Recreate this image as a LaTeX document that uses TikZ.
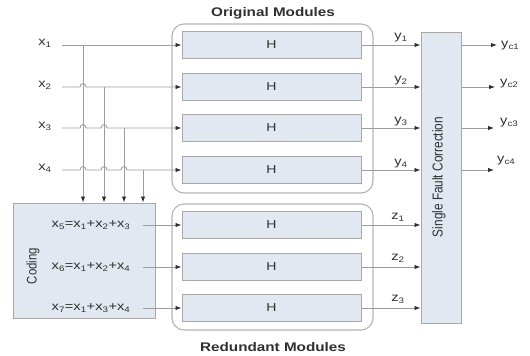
\documentclass[tikz,border=0pt]{standalone}
\usepackage{fontspec}
\setmainfont{Liberation Sans}
\newfontfamily\widefont[FakeStretch=1.22]{Liberation Sans}
\usetikzlibrary{arrows.meta}
\definecolor{lineg}{HTML}{9C9C9C}
\definecolor{boxg}{HTML}{A8A8A8}
\definecolor{outg}{HTML}{B4B4B4}
\definecolor{fillb}{HTML}{E2E8F1}
\definecolor{tipc}{HTML}{2E2E2E}
\definecolor{txt}{HTML}{303030}
\newcommand\vstretch[1]{\scalebox{1}[1.22]{#1}}
\begin{document}
\begin{tikzpicture}[x=1pt,y=-1pt,
  hbox/.style={draw=boxg,fill=fillb,line width=1pt,minimum width=179pt,minimum height=27pt,inner sep=0pt,font=\widefont\fontsize{11.5}{11.5}\selectfont,text=txt},
  modbox/.style={draw=outg,line width=1.1pt,rounded corners=12pt,inner sep=0pt},
  bluebox/.style={draw=boxg,fill=fillb,line width=1pt,inner sep=0pt},
  lbl/.style={inner sep=0pt,font=\widefont\fontsize{12}{12}\selectfont,text=txt},
  rlbl/.style={inner sep=0pt,rotate=90,text=txt},
  ttl/.style={inner sep=0pt,font=\widefont\fontsize{12.5}{12.5}\selectfont\bfseries,text=txt},
  conn/.style={draw=lineg,line width=0.9pt,-{Latex[length=6pt,width=4.5pt,color=tipc]}}]
\useasboundingbox (0,0) rectangle (530,356);
% outer module frames
\node[modbox,minimum width=201pt,minimum height=169pt] (orig) at (272.5,108.5) {};
\node[modbox,minimum width=201pt,minimum height=126pt] (red) at (272.5,267) {};
\node[ttl] (tor) at (273,13) {Original Modules};
\node[ttl] (tre) at (273,347) {Redundant Modules};
% H boxes
\node[hbox] (h1) at (271.5,45) {H};
\node[hbox] (h2) at (271.5,87) {H};
\node[hbox] (h3) at (271.5,128) {H};
\node[hbox] (h4) at (271.5,170) {H};
\node[hbox] (r1) at (271.5,225) {H};
\node[hbox] (r2) at (271.5,267) {H};
\node[hbox] (r3) at (271.5,308) {H};
% coding box
\node[bluebox,minimum width=142pt,minimum height=115pt] (cod) at (84,260.5) {};
\node[rlbl,font=\fontsize{11.4}{11.4}\selectfont] (codt) at (33,266) {\vstretch{Coding}};
% SFC
\node[bluebox,minimum width=40pt,minimum height=291pt] (sfc) at (441,177.5) {};
\node[rlbl,font=\fontsize{11.8}{11.8}\selectfont] (sfct) at (439,177) {\vstretch{Single Fault Correction}};
% inputs
\node[lbl] (lx1) at (45,43) {x\textsubscript{1}};
\node[lbl] (lx2) at (45,85) {x\textsubscript{2}};
\node[lbl] (lx3) at (45,126) {x\textsubscript{3}};
\node[lbl] (lx4) at (45,168) {x\textsubscript{4}};
\coordinate (in1) at (62,45);
\coordinate (in2) at (62,87);
\coordinate (in3) at (62,128);
\coordinate (in4) at (62,170);
\coordinate (t1) at (83,45);
\coordinate (t2) at (104,87);
\coordinate (t3) at (124,128);
\coordinate (t4) at (143,170);
\draw[conn] (in1) -- (h1.west);
\draw[conn] (in2) -- (80,87) .. controls (80,82.5) and (86,82.5) .. (86,87) -- (h2.west);
\draw[conn] (in3) -- (80,128) .. controls (80,123.5) and (86,123.5) .. (86,128)
  -- (101,128) .. controls (101,123.5) and (107,123.5) .. (107,128) -- (h3.west);
\draw[conn] (in4) -- (80,170) .. controls (80,165.5) and (86,165.5) .. (86,170)
  -- (101,170) .. controls (101,165.5) and (107,165.5) .. (107,170)
  -- (121,170) .. controls (121,165.5) and (127,165.5) .. (127,170) -- (h4.west);
\draw[conn] (t1) -- (t1 |- cod.north);
\draw[conn] (t2) -- (t2 |- cod.north);
\draw[conn] (t3) -- (t3 |- cod.north);
\draw[conn] (t4) -- (t4 |- cod.north);
% coding equations
\node[lbl] (e5) at (91,225) {x\textsubscript{5}=x\textsubscript{1}+x\textsubscript{2}+x\textsubscript{3}};
\node[lbl] (e6) at (91,267) {x\textsubscript{6}=x\textsubscript{1}+x\textsubscript{2}+x\textsubscript{4}};
\node[lbl] (e7) at (91,308) {x\textsubscript{7}=x\textsubscript{1}+x\textsubscript{3}+x\textsubscript{4}};
\coordinate (c5) at (143,225);
\coordinate (c6) at (143,267);
\coordinate (c7) at (143,308);
\draw[conn] (c5) -- (r1.west);
\draw[conn] (c6) -- (r2.west);
\draw[conn] (c7) -- (r3.west);
% outputs of modules
\draw[conn] (h1.east) -- (h1.east -| sfc.west);
\draw[conn] (h2.east) -- (h2.east -| sfc.west);
\draw[conn] (h3.east) -- (h3.east -| sfc.west);
\draw[conn] (h4.east) -- (h4.east -| sfc.west);
\draw[conn] (r1.east) -- (r1.east -| sfc.west);
\draw[conn] (r2.east) -- (r2.east -| sfc.west);
\draw[conn] (r3.east) -- (r3.east -| sfc.west);
\node[lbl] (ly1) at (401,38) {y\textsubscript{1}};
\node[lbl] (ly2) at (401,81) {y\textsubscript{2}};
\node[lbl] (ly3) at (401,122) {y\textsubscript{3}};
\node[lbl] (ly4) at (401,164) {y\textsubscript{4}};
\node[lbl] (lz1) at (398,217) {z\textsubscript{1}};
\node[lbl] (lz2) at (398,258) {z\textsubscript{2}};
\node[lbl] (lz3) at (398,299) {z\textsubscript{3}};
% corrected outputs
\coordinate (o1) at (497,45);
\coordinate (o2) at (495,87);
\coordinate (o3) at (494,128);
\coordinate (o4) at (494,170);
\draw[conn] (o1 -| sfc.east) -- (o1);
\draw[conn] (o2 -| sfc.east) -- (o2);
\draw[conn] (o3 -| sfc.east) -- (o3);
\draw[conn] (o4 -| sfc.east) -- (o4);
\node[lbl,anchor=west] (lc1) at (501,46) {y\textsubscript{c1}};
\node[lbl,anchor=west] (lc2) at (500,84) {y\textsubscript{c2}};
\node[lbl,anchor=west] (lc3) at (500,123) {y\textsubscript{c3}};
\node[lbl,anchor=west] (lc4) at (497,161) {y\textsubscript{c4}};
\end{tikzpicture}
\end{document}
